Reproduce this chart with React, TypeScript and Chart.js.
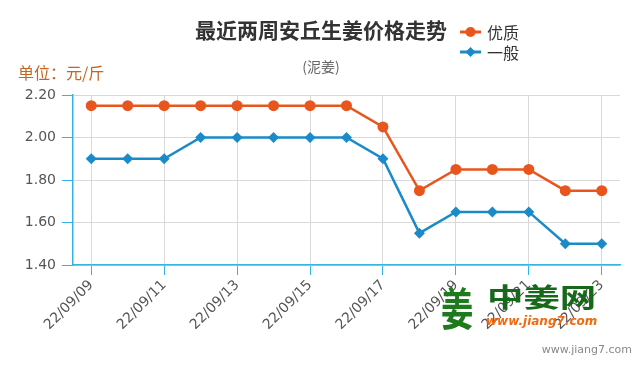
import React, { useEffect, useRef } from "react";
import { Chart, registerables } from "chart.js";

Chart.register(...registerables);

const categories = [
  "22/09/09", "22/09/10", "22/09/11", "22/09/12", "22/09/13", "22/09/14", "22/09/15",
  "22/09/16", "22/09/17", "22/09/18", "22/09/19", "22/09/20", "22/09/21", "22/09/22", "22/09/23",
];
const premiumValues = [2.15, 2.15, 2.15, 2.15, 2.15, 2.15, 2.15, 2.15, 2.05, 1.75, 1.85, 1.85, 1.85, 1.75, 1.75];
const normalValues = [1.9, 1.9, 1.9, 2.0, 2.0, 2.0, 2.0, 2.0, 1.9, 1.55, 1.65, 1.65, 1.65, 1.5, 1.5];
const seriesNames = ["优质", "一般"];
const titleText = "最近两周安丘生姜价格走势";
const subtitleText = "(泥姜)";
const unitText = "单位：元/斤";

const ORANGE = "#e9561d";
const BLUE = "#1a8bc8";
const CYAN = "#33b4e4";
const GRID = "#d9d9d9";
const CJK = '"Noto Sans CJK SC", "Noto Sans", sans-serif';
const TICKFONT = '"DejaVu Sans", sans-serif';

const overlayPlugin = {
  id: "overlay",
  afterDraw(chart: any) {
    const ctx = chart.ctx as CanvasRenderingContext2D;
    ctx.save();
    // title
    ctx.textBaseline = "middle";
    ctx.textAlign = "center";
    ctx.fillStyle = "#333333";
    ctx.font = `bold 21px ${CJK}`;
    ctx.fillText(titleText, 321, 30);
    ctx.fillStyle = "#666666";
    ctx.font = `14px ${CJK}`;
    ctx.fillText(subtitleText, 321, 67);
    // unit
    ctx.textAlign = "left";
    ctx.fillStyle = "#c4661f";
    ctx.font = `16px ${CJK}`;
    ctx.fillText(unitText, 18, 73);
    // legend
    const items = [
      { color: ORANGE, label: seriesNames[0], y: 32, style: "circle" },
      { color: BLUE, label: seriesNames[1], y: 52, style: "diamond" },
    ];
    for (const it of items) {
      ctx.strokeStyle = it.color;
      ctx.fillStyle = it.color;
      ctx.lineWidth = 3;
      ctx.beginPath();
      ctx.moveTo(460, it.y);
      ctx.lineTo(481, it.y);
      ctx.stroke();
      ctx.beginPath();
      if (it.style === "circle") {
        ctx.arc(470.5, it.y, 5, 0, Math.PI * 2);
      } else {
        ctx.moveTo(470.5, it.y - 5);
        ctx.lineTo(475.5, it.y);
        ctx.lineTo(470.5, it.y + 5);
        ctx.lineTo(465.5, it.y);
        ctx.closePath();
      }
      ctx.fill();
      ctx.fillStyle = "#333333";
      ctx.font = `16px ${CJK}`;
      ctx.fillText(it.label, 487, it.y + 1);
    }
    // watermark logo
    ctx.textBaseline = "middle";
    ctx.save();
    ctx.translate(441, 309);
    ctx.scale(0.85, 1.2);
    ctx.fillStyle = "#1d7a1d";
    ctx.font = `bold 38px ${CJK}`;
    ctx.fillText("姜", 0, 0);
    ctx.restore();
    ctx.save();
    ctx.translate(487, 297);
    ctx.scale(1.4, 1);
    ctx.fillStyle = "#17691a";
    ctx.font = `bold 26px ${CJK}`;
    ctx.fillText("中姜网", 0, 0);
    ctx.restore();
    ctx.fillStyle = "#f06a10";
    ctx.font = `bold italic 12px "DejaVu Sans", sans-serif`;
    ctx.fillText("www.jiang7.com", 486, 322);
    // credit
    ctx.fillStyle = "#888888";
    ctx.font = `11px "DejaVu Sans", sans-serif`;
    ctx.textAlign = "right";
    ctx.fillText("www.jiang7.com", 632, 350);
    ctx.restore();
  },
};

export default function App() {
  const ref = useRef<HTMLCanvasElement | null>(null);
  useEffect(() => {
    if (!ref.current) return;
    const chart = new Chart(ref.current, {
      type: "line",
      data: {
        labels: categories,
        datasets: [
          {
            label: seriesNames[0],
            data: premiumValues,
            borderColor: ORANGE,
            backgroundColor: ORANGE,
            borderWidth: 2.5,
            pointStyle: "circle",
            pointRadius: 5.5,
            pointBorderWidth: 0,
            tension: 0,
          },
          {
            label: seriesNames[1],
            data: normalValues,
            borderColor: BLUE,
            backgroundColor: BLUE,
            borderWidth: 2.5,
            pointStyle: "rectRot",
            pointRadius: 5.5,
            pointBorderWidth: 0,
            tension: 0,
          },
        ],
      },
      options: {
        animation: false,
        responsive: false,
        maintainAspectRatio: false,
        layout: { padding: { top: 95, right: 20, left: 0, bottom: 0 } },
        plugins: {
          legend: { display: false },
          title: { display: false },
          tooltip: { enabled: false },
        },
        scales: {
          x: {
            offset: true,
            grid: {
              offset: false,
              color: GRID,
              tickColor: CYAN,
              tickLength: 10,
              lineWidth: 1,
            },
            border: { color: CYAN, width: 1.5 },
            ticks: {
              autoSkip: true,
              maxTicksLimit: 8,
              maxRotation: 45,
              minRotation: 45,
              color: "#555555",
              font: { family: TICKFONT, size: 14 },
              padding: 2,
            },
            afterFit(scale: any) {
              scale.height = 105;
            },
          },
          y: {
            min: 1.4,
            max: 2.2,
            grid: {
              color: GRID,
              tickColor: CYAN,
              tickLength: 11,
            },
            border: { color: CYAN, width: 1.5 },
            ticks: {
              stepSize: 0.2,
              color: "#555555",
              font: { family: TICKFONT, size: 14 },
              padding: 6,
              callback: (v: any) => Number(v).toFixed(2),
            },
            afterFit(scale: any) {
              scale.width = 73;
            },
          },
        },
      },
      plugins: [overlayPlugin],
    });
    return () => chart.destroy();
  }, []);
  return (
    <div style={{ position: "fixed", left: 0, top: 0, width: 640, height: 370, background: "#fff" }}>
      <canvas ref={ref} width={640} height={370} style={{ width: 640, height: 370 }} />
    </div>
  );
}
